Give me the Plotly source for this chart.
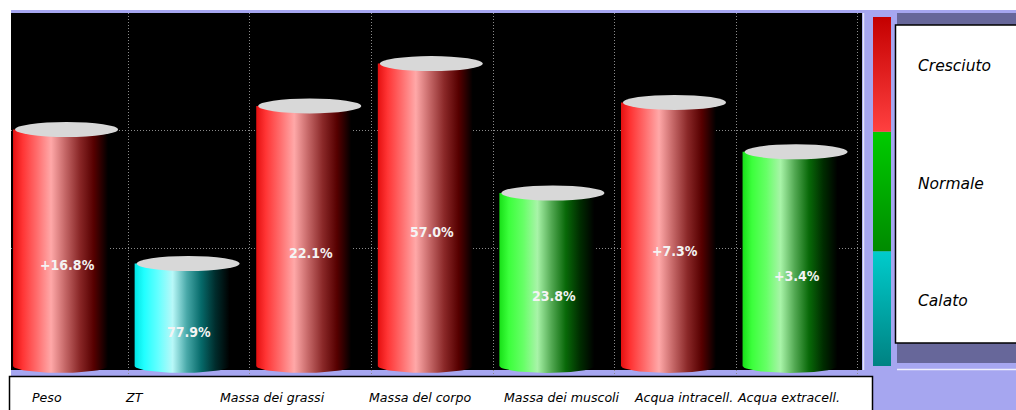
import numpy as np
import plotly.graph_objects as go

# ---- data -------------------------------------------------------------
categories = ["Peso", "ZT", "Massa dei grassi", "Massa del corpo",
              "Massa dei muscoli", "Acqua intracell.", "Acqua extracell."]
levels = [2.01, 0.87, 2.21, 2.57, 1.47, 2.24, 1.82]
value_labels = ["+16.8%", "77.9%", "22.1%", "57.0%", "23.8%", "+7.3%", "+3.4%"]
status = ["Cresciuto", "Calato", "Cresciuto", "Cresciuto",
          "Normale", "Cresciuto", "Normale"]

band_names = ["Calato", "Normale", "Cresciuto"]
band_edges = [0, 0.975, 1.99, 2.965]

# ---- page geometry (pixels) ------------------------------------------
W, H = 1016, 410
PLOT_L, PLOT_R = 11, 862
PLOT_T, PLOT_B = 13, 376
X_RANGE = [-0.465, 6.534]
Y_RANGE = [-0.086, 3.0]
PX_X = (PLOT_R - PLOT_L) / (X_RANGE[1] - X_RANGE[0])
PX_Y = (PLOT_B - PLOT_T) / (Y_RANGE[1] - Y_RANGE[0])

PURPLE = "#a6a6f0"
SHADOW = "#67679a"


def px(x):
    return x / W


def py(y):
    return 1 - y / H


# cylinder shading, left to right
gradients = {
    "Cresciuto": [[0, "#e41010"], [0.1, "#ff3434"], [0.25, "#ff6c6c"],
                  [0.4, "#ffa8a8"], [0.55, "#c46666"], [0.7, "#8a2828"],
                  [0.85, "#560000"], [1, "#000000"]],
    "Normale": [[0, "#18e018"], [0.1, "#3cff3c"], [0.25, "#66ff66"],
                [0.4, "#a8f4a8"], [0.55, "#52a852"], [0.7, "#086808"],
                [0.85, "#002c00"], [1, "#000000"]],
    "Calato": [[0, "#00e4e4"], [0.1, "#20ffff"], [0.25, "#66ffff"],
               [0.4, "#b8f8f8"], [0.55, "#48a8a8"], [0.7, "#066a6a"],
               [0.85, "#002c2c"], [1, "#000000"]],
}
band_gradients = {
    "Cresciuto": [[0, "#ff4040"], [1, "#c40000"]],
    "Normale": [[0, "#008a00"], [1, "#00cc00"]],
    "Calato": [[0, "#008282"], [1, "#00cccc"]],
}

fig = go.Figure()

# cylinder bodies: rectangle with a rounded (half-ellipse) bottom
BODY_OFF, BODY_W, BOTTOM_DEPTH = -54.5, 95, 7
t = np.linspace(0, np.pi, 25)
for i, (v, st) in enumerate(zip(levels, status)):
    x0 = i + BODY_OFF / PX_X
    x1 = x0 + BODY_W / PX_X
    cx, hw = (x0 + x1) / 2, (x1 - x0) / 2
    xs = [x0, x1] + list(cx + hw * np.cos(t)) + [x0]
    ys = [v, v] + list(-BOTTOM_DEPTH / PX_Y * np.sin(t)) + [v]
    fig.add_trace(go.Scatter(
        x=xs, y=ys, mode="lines", fill="toself",
        line=dict(width=0, color="rgba(0,0,0,0)"),
        fillgradient=dict(type="horizontal", colorscale=gradients[st]),
        hoverinfo="skip", showlegend=False, xaxis="x", yaxis="y"))

# status scale bar on the right
for name, lo, hi in zip(band_names, band_edges[:-1], band_edges[1:]):
    fig.add_trace(go.Scatter(
        x=[0, 1, 1, 0, 0], y=[lo, lo, hi, hi, lo], mode="lines",
        fill="toself", line=dict(width=0, color="rgba(0,0,0,0)"),
        fillgradient=dict(type="vertical", colorscale=band_gradients[name]),
        hoverinfo="skip", showlegend=False, xaxis="x2", yaxis="y"))

shapes = [
    # lavender frame behind everything
    dict(type="rect", xref="paper", yref="paper", layer="below",
         x0=px(PLOT_L), x1=1, y0=0, y1=py(10),
         fillcolor=PURPLE, line=dict(width=0)),
    # black plotting field above the floor strip
    dict(type="rect", xref="x domain", yref="y", layer="below",
         x0=0, x1=1, y0=-0.034, y1=Y_RANGE[1],
         fillcolor="#000000", line=dict(width=0)),
    # light edge at the right of the plotting field
    dict(type="line", xref="paper", yref="paper",
         x0=px(863.5), x1=px(863.5), y0=py(370), y1=py(13),
         line=dict(color="#e4e4fa", width=1.5)),
    # legend shadow and box
    dict(type="rect", xref="paper", yref="paper",
         x0=px(897), x1=1.01, y0=py(363), y1=py(13),
         fillcolor=SHADOW, line=dict(width=0)),
    dict(type="line", xref="paper", yref="paper",
         x0=px(897), x1=1.01, y0=py(369.5), y1=py(369.5),
         line=dict(color="#eeeefc", width=1.5)),
    dict(type="rect", xref="paper", yref="paper",
         x0=px(895.5), x1=1.01, y0=py(343), y1=py(25),
         fillcolor="#ffffff", line=dict(color="#000000", width=1.5)),
    # category label box
    dict(type="rect", xref="paper", yref="paper",
         x0=px(9.5), x1=px(872.5), y0=-0.02, y1=py(376.5),
         fillcolor="#ffffff", line=dict(color="#000000", width=1.5)),
]

# top caps of the cylinders
for i, v in enumerate(levels):
    shapes.append(dict(
        type="circle", xref="x", yref="y", ysizemode="pixel", yanchor=v,
        x0=i - 52.5 / PX_X, x1=i + 50.5 / PX_X, y0=-7.5, y1=7.5,
        fillcolor="#d8d8d8", line=dict(width=0)))

annotations = []
for i, (v, lab) in enumerate(zip(levels, value_labels)):
    annotations.append(dict(
        x=i, y=v / 2, xref="x", yref="y", yshift=-17, text=lab,
        showarrow=False, xanchor="center", yanchor="middle",
        font=dict(family="DejaVu Sans Condensed, Liberation Sans Narrow, "
                         "Arial Narrow, Liberation Sans, sans-serif",
                  size=14, weight="bold", color="#f4f4f4")))

label_left_px = [30, 123, 218, 367, 502, 632, 735]
for name, xl in zip(categories, label_left_px):
    annotations.append(dict(
        x=px(xl), y=py(397), xref="paper", yref="paper", text=name,
        showarrow=False, xanchor="left", yanchor="middle",
        font=dict(family="DejaVu Sans, Verdana, sans-serif", size=12.6,
                  style="italic", color="#000000")))

for name, lo, hi in zip(band_names, band_edges[:-1], band_edges[1:]):
    annotations.append(dict(
        x=px(916), y=(lo + hi) / 2, xref="paper", yref="y", yshift=8,
        text=name, showarrow=False, xanchor="left", yanchor="middle",
        font=dict(family="DejaVu Sans, Verdana, sans-serif", size=15.5,
                  style="italic", color="#000000")))

fig.update_layout(
    width=W, height=H,
    margin=dict(l=0, r=0, t=0, b=0),
    paper_bgcolor="#ffffff",
    plot_bgcolor="rgba(0,0,0,0)",
    showlegend=False,
    xaxis=dict(domain=[px(PLOT_L), px(PLOT_R)], range=X_RANGE,
               tickvals=[k + 0.5 for k in range(len(categories))],
               showticklabels=False, ticks="", showgrid=True,
               gridcolor="#8a8a8a", griddash="1px,2px", gridwidth=1,
               zeroline=False, showline=False, fixedrange=True),
    xaxis2=dict(domain=[px(873), px(891)], range=[0, 1], anchor="y",
                visible=False, fixedrange=True),
    yaxis=dict(domain=[py(PLOT_B), py(PLOT_T)], range=Y_RANGE,
               tickvals=[1, 2], showticklabels=False, ticks="",
               showgrid=True, gridcolor="#8a8a8a", griddash="1px,2px",
               gridwidth=1, zeroline=False, showline=False, fixedrange=True),
    shapes=shapes,
    annotations=annotations,
)

fig.write_html("out.html")
